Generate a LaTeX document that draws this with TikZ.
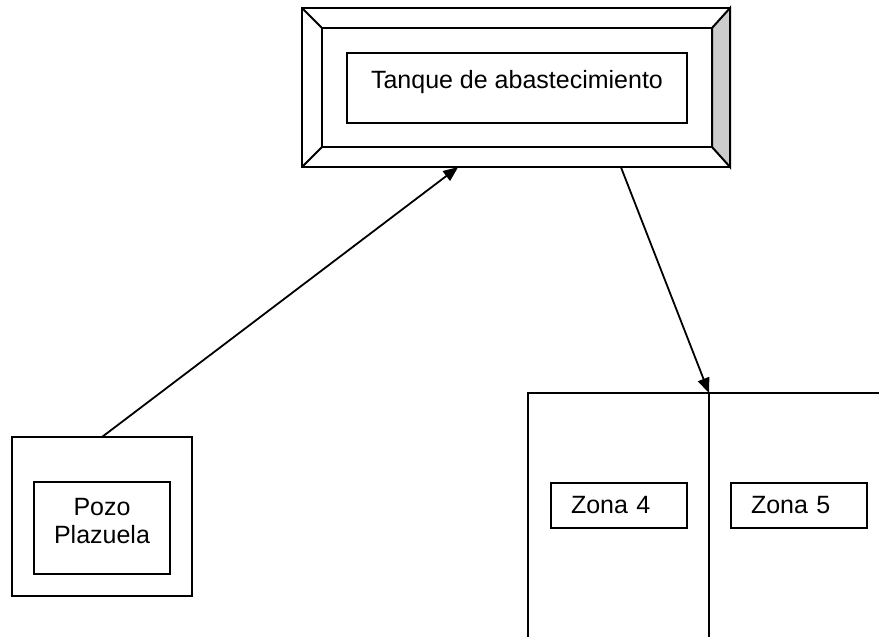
\documentclass[tikz,border=0pt]{standalone}
\usepackage{fontspec}
\setmainfont{Liberation Sans}
\usetikzlibrary{positioning}
\usetikzlibrary{calc}
\usetikzlibrary{arrows.meta}

\tikzset{
  box/.style={draw, line width=2pt, inner sep=0pt, outer sep=0pt},
  lbl/.style={font=\fontsize{25}{28}\selectfont, inner sep=0pt},
  flow/.style={line width=1.8pt, -{Triangle[length=15pt,width=12pt]}}
}

\begin{document}
\begin{tikzpicture}[x=1pt,y=-1pt]
	\clip (0,0) rectangle (879,637);
	\fill[white] (0,0) rectangle (879,637);
	% tanque
	\node[box, minimum width=428pt, minimum height=159pt] (tank) at (516,87.5) {};
	\node[box, minimum width=390pt, minimum height=119pt] (bevel) at (517,87.5) {};
	\filldraw[fill=black!20, line width=2pt] (bevel.north east) -- (tank.north east) -- (tank.south east) -- (bevel.south east) -- cycle;
	\draw[line width=2pt] (tank.north west) -- (bevel.north west);
	\draw[line width=2pt] (tank.south west) -- (bevel.south west);
	\node[box, minimum width=340pt, minimum height=70pt] (tankbox) at (517,88) {};
	\node[lbl, anchor=base] (tanktxt) at (517,88) {Tanque de abastecimiento};
	% pozo
	\node[box, minimum width=180pt, minimum height=159pt] (pozo) at (102,516.5) {};
	\node[box, minimum width=136pt, minimum height=92pt] (pozobox) at (102,528) {};
	\node[lbl, align=center, anchor=north] (pozotxt) at (102,498) {Pozo\\Plazuela};
	% zonas
	\node[box, minimum width=181pt, minimum height=267pt] (zona4area) at (618.5,526.5) {};
	\node[box, minimum width=190pt, minimum height=267pt, right=0pt of zona4area] (zona5area) {};
	\node[box, lbl, inner xsep=20pt, text width=96pt, align=left, minimum height=45pt] (zona4) at (619,505.5) {Zona 4};
	\node[box, lbl, inner xsep=20pt, text width=96pt, align=left, minimum height=45pt, right=44pt of zona4] (zona5) {Zona 5};
	% flechas
	\draw[flow] (pozo.north) -- ($(tank.south west)!0.365!(tank.south east)$);
	\draw[flow] ($(tank.south west)!0.745!(tank.south east)$) -- (zona4area.north east);
\end{tikzpicture}
\end{document}
